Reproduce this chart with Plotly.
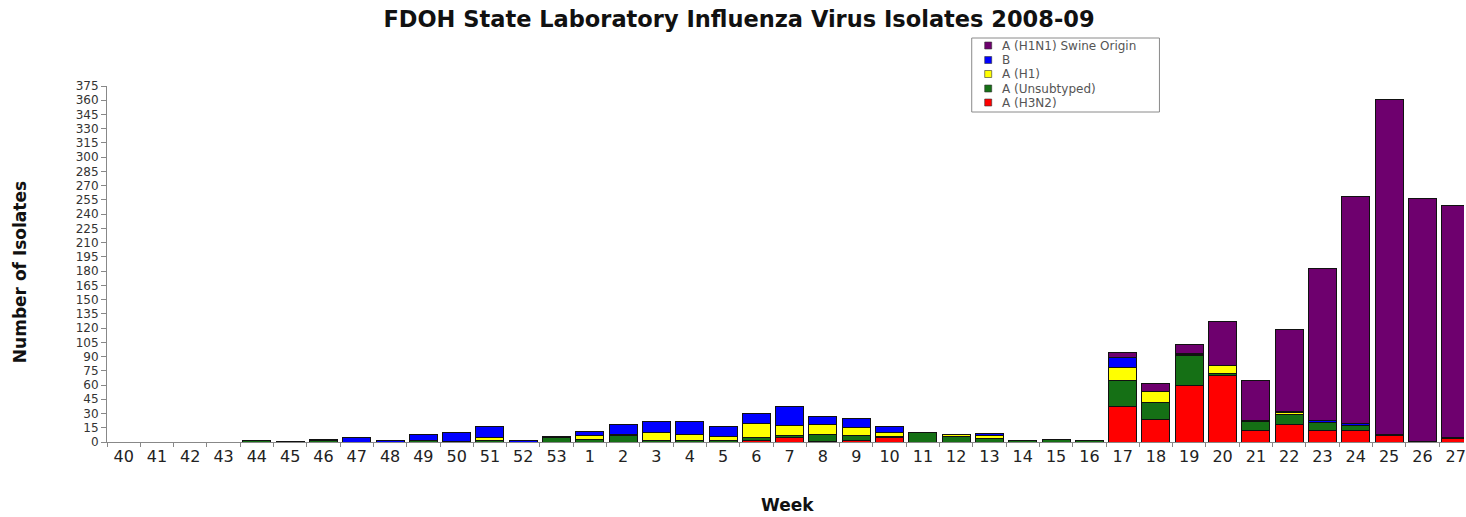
import plotly.graph_objects as go

weeks = ["40", "41", "42", "43", "44", "45", "46", "47", "48", "49", "50", "51", "52", "53",
         "1", "2", "3", "4", "5", "6", "7", "8", "9", "10", "11", "12", "13", "14", "15",
         "16", "17", "18", "19", "20", "21", "22", "23", "24", "25", "26", "27"]

h3n2 = [0, 0, 0, 0, 0, 0, 0, 0, 0, 0, 0, 0, 0, 0,
        0, 0, 0, 0, 0, 2, 5, 1, 2, 5, 0, 0, 0, 0, 0,
        0, 37, 24, 60, 70, 12, 18, 12, 12, 7, 0, 4]
unsubtyped = [0, 0, 0, 0, 2, 1, 2, 0, 0, 2, 1, 2, 0, 5,
              3, 7, 2, 2, 2, 3, 2, 7, 5, 1, 10, 6, 4, 2, 3,
              2, 28, 18, 31, 2, 10, 11, 9, 5, 1, 1, 1]
h1 = [0, 0, 0, 0, 0, 0, 1, 0, 0, 0, 0, 3, 0, 1,
      4, 1, 8, 6, 4, 14, 10, 10, 8, 4, 0, 2, 3, 0, 0,
      0, 14, 11, 1, 9, 1, 2, 0, 0, 0, 0, 0]
b = [0, 0, 0, 0, 0, 0, 0, 5, 2, 6, 9, 11, 2, 0,
     4, 10, 12, 14, 10, 11, 20, 9, 10, 6, 0, 0, 2, 0, 0,
     0, 10, 0, 1, 0, 0, 1, 2, 2, 0, 0, 0]
h1n1_swine = [0, 0, 0, 0, 0, 0, 0, 0, 0, 0, 0, 0, 0, 0,
              0, 0, 0, 0, 0, 0, 0, 0, 0, 0, 0, 0, 0, 0, 0,
              0, 5, 9, 10, 46, 42, 87, 160, 240, 353, 256, 244]

y_ticks = list(range(0, 376, 15))

series = [
    ("A (H3N2)", h3n2, "#FF0000"),
    ("A (Unsubtyped)", unsubtyped, "#157015"),
    ("A (H1)", h1, "#FFFF00"),
    ("B", b, "#0000FF"),
    ("A (H1N1) Swine Origin", h1n1_swine, "#6E006E"),
]

# plot area geometry in pixels (used only for legend / label placement)
PL, PR, PT, PB = 107, 1466, 86, 442
PW, PH = PR - PL, PB - PT


def px(x):
    return (x - PL) / PW


def py(y):
    return (PB - y) / PH


fig = go.Figure()
for name, vals, color in series:
    fig.add_trace(go.Bar(
        x=weeks, y=vals, name=name, showlegend=False,
        marker=dict(color=color, line=dict(color="#111111", width=1)),
    ))

font_main = "DejaVu Sans, Verdana, sans-serif"

# custom compact legend (top to bottom: reverse of stacking order)
shapes = [dict(type="rect", xref="paper", yref="paper",
               x0=px(973), x1=px(1161), y0=py(112), y1=py(38),
               line=dict(color="#8a8a8a", width=1), fillcolor="white", layer="above")]
annotations = []
row_y = [45.5, 60, 74, 88.5, 102.5]
for (name, vals, color), ry in zip(series[::-1], row_y):
    shapes.append(dict(type="rect", xref="paper", yref="paper",
                       x0=px(986), x1=px(993), y0=py(ry + 3.5), y1=py(ry - 3.5),
                       fillcolor=color, line=dict(color="#333333", width=0.6), layer="above"))
    annotations.append(dict(text=name, xref="paper", yref="paper",
                            x=px(1001), y=py(ry), xanchor="left", yanchor="middle",
                            showarrow=False,
                            font=dict(size=12, color="#555555", family=font_main)))

annotations += [
    dict(text="<b>Week</b>", xref="paper", yref="paper",
         x=px(789), y=py(505),
         xanchor="center", yanchor="middle", showarrow=False,
         font=dict(size=17, color="#111111", family=font_main)),
    dict(text="<b>Number of Isolates</b>", xref="paper", yref="paper",
         x=px(20), y=py(272), textangle=-90,
         xanchor="center", yanchor="middle", showarrow=False,
         font=dict(size=17, color="#111111", family=font_main)),
]

fig.update_layout(
    width=1466, height=517,
    barmode="stack", bargap=0.16,
    plot_bgcolor="white", paper_bgcolor="white",
    margin=dict(l=PL, r=1466 - PR, t=PT, b=517 - PB),
    font=dict(family=font_main, color="#222222"),
    title=dict(
        text="<b>FDOH State Laboratory Influenza Virus Isolates 2008-09</b>",
        x=739 / 1466, xref="container", xanchor="center",
        y=1 - 19 / 517, yref="container", yanchor="middle",
        font=dict(size=22.5, color="#111111", family=font_main),
    ),
    showlegend=False,
    xaxis=dict(
        type="category", categoryorder="array", categoryarray=weeks,
        range=[-0.5, 40.25],
        showline=True, linecolor="#888888", linewidth=1,
        ticks="outside", tickson="boundaries", ticklen=4, tickcolor="#888888",
        tickfont=dict(size=16, color="#222222", family=font_main),
        showgrid=False, zeroline=False,
    ),
    yaxis=dict(
        range=[0, 375], tickvals=y_ticks,
        showline=True, linecolor="#888888", linewidth=1,
        ticks="outside", ticklen=5, tickcolor="#888888",
        tickfont=dict(size=12, color="#333333", family=font_main),
        showgrid=False, zeroline=False,
    ),
    shapes=shapes,
    annotations=annotations,
)

fig.write_html("out.html", config={"displayModeBar": False},
               post_script="document.body.style.margin='0';")
